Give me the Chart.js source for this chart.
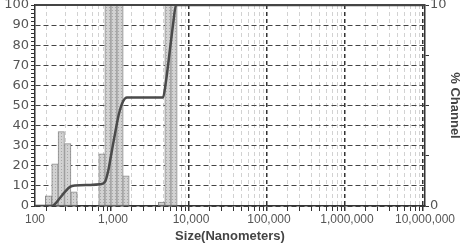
<!DOCTYPE html>
<html>
<head>
<meta charset="utf-8">
<script src="https://cdn.jsdelivr.net/npm/chart.js@4"></script>
<style>
  html, body { margin: 0; padding: 0; background: #fff; }
  #wrap { width: 462px; height: 245px; }
</style>
</head>
<body>
<div id="wrap"><canvas id="psd"></canvas></div>
<script>
// histogram bins (nm) and % channel
var binSizes = [149, 180, 217, 263, 317, 722, 863, 1030, 1230, 1468, 4188, 5070, 6053];
var channelPct = [0.5, 2.1, 3.7, 3.1, 0.7, 2.6, 12, 12, 12, 1.5, 0.2, 12, 12];

// cumulative curve
var cumSizes = [100, 165, 180, 209, 242, 281, 326, 507, 681, 789, 863, 942, 1061, 1194, 1343, 1511, 2170, 4375, 4776, 5379, 5877, 6424, 10000000];
var cumPct = [0, 0, 1, 4, 7, 9.5, 10.2, 10.5, 10.8, 12, 17, 25, 36, 46, 52, 54, 54, 54, 62, 78, 90, 100, 100];

// left axis: minor ticks every 2, labels every 10
var yTicks = [];
for (var t = 0; t <= 100; t += 2) yTicks.push(t);

function isDecade(v) {
  var l = Math.log10(v);
  return Math.abs(l - Math.round(l)) < 1e-9;
}
function isHalf(v) {
  var s = v / Math.pow(10, Math.floor(Math.log10(v) + 1e-9));
  return Math.abs(s - 1.5) < 1e-6;
}

// dotted fill like the original bars
var pat = document.createElement('canvas');
pat.width = 3; pat.height = 3;
var pc = pat.getContext('2d');
pc.fillStyle = '#d2d2d2';
pc.fillRect(0, 0, 3, 3);
pc.fillStyle = '#a8a8a8';
pc.fillRect(1, 1, 1, 1);
var barFill = pc.createPattern(pat, 'repeat');

var xFont = { family: 'Liberation Sans, Arial, sans-serif', size: 12 };
var yFont = { family: 'DejaVu Sans, sans-serif', size: 13 };
var labelGrey = '#555';

new Chart(document.getElementById('psd'), {
  data: {
    datasets: [{
      type: 'line',
      data: cumSizes.map(function (s, i) { return { x: s, y: cumPct[i] }; }),
      xAxisID: 'x',
      yAxisID: 'y',
      borderColor: '#4a4a4a',
      borderWidth: 2.5,
      pointRadius: 0,
      cubicInterpolationMode: 'monotone',
      order: 0
    }, {
      type: 'bar',
      data: binSizes.map(function (s, i) { return { x: s, y: channelPct[i] }; }),
      xAxisID: 'x',
      yAxisID: 'y1',
      backgroundColor: barFill,
      borderColor: '#8c8c8c',
      borderWidth: 1,
      borderSkipped: false,
      barThickness: 6.4,
      order: 1
    }]
  },
  options: {
    responsive: true,
    maintainAspectRatio: false,
    animation: false,
    layout: { padding: { top: 5, left: 0, right: 0, bottom: 0 } },
    plugins: { legend: { display: false }, tooltip: { enabled: false } },
    scales: {
      x: {
        type: 'logarithmic',
        min: 100,
        max: 10000000,
        border: { color: '#333', width: 1.5, dash: [4, 3] },
        grid: {
          color: function (c) {
            if (!c.tick) return 'rgba(0,0,0,0)';
            if (isHalf(c.tick.value)) return 'rgba(0,0,0,0)';
            return isDecade(c.tick.value) ? '#333' : '#d2d2d2';
          },
          lineWidth: function (c) {
            return c.tick && isDecade(c.tick.value) ? 1.5 : 1;
          },
          tickColor: function (c) {
            if (!c.tick || isHalf(c.tick.value)) return 'rgba(0,0,0,0)';
            return '#333';
          },
          tickLength: 5
        },
        ticks: {
          autoSkip: false,
          maxRotation: 0,
          color: labelGrey,
          font: xFont,
          padding: 1,
          callback: function (v) {
            return isDecade(v) ? Number(v).toLocaleString('en-US') : '';
          }
        },
        title: {
          display: true,
          text: 'Size(Nanometers)',
          color: '#444',
          font: { family: xFont.family, size: 13, weight: 'bold' },
          padding: { top: 0, bottom: 1 }
        },
        afterFit: function (s) { s.height = 39; }
      },
      y: {
        position: 'left',
        min: 0,
        max: 100,
        afterBuildTicks: function (s) {
          s.ticks = yTicks.map(function (v) { return { value: v }; });
        },
        border: { color: '#333', width: 1.5, dash: [5, 3] },
        grid: {
          color: function (c) {
            if (!c.tick || c.tick.value % 10 !== 0) return 'rgba(0,0,0,0)';
            return '#444';
          },
          lineWidth: 1,
          tickColor: '#333',
          tickLength: 4
        },
        ticks: {
          autoSkip: false,
          color: labelGrey,
          font: yFont,
          padding: 2,
          callback: function (v) { return v % 10 === 0 ? String(v) : ''; }
        },
        afterFit: function (s) { s.width = 35; s.paddingTop = 0; s.paddingBottom = 0; }
      },
      y1: {
        position: 'right',
        min: 0,
        max: 10,
        border: { color: '#333', width: 1.5 },
        grid: { drawOnChartArea: false, tickColor: '#333', tickLength: 4 },
        ticks: {
          stepSize: 2.5,
          color: labelGrey,
          font: yFont,
          padding: 1,
          callback: function (v) { return (v === 0 || v === 10) ? String(v) : ''; }
        },
        title: {
          display: true,
          text: '% Channel',
          color: '#444',
          font: { family: xFont.family, size: 13, weight: 'bold' },
          padding: { top: 0, bottom: 3 }
        },
        afterFit: function (s) { s.width = 37; s.paddingTop = 0; s.paddingBottom = 0; }
      }
    }
  },
  plugins: [{
    id: 'topBorder',
    afterDraw: function (chart) {
      var a = chart.chartArea, ctx = chart.ctx;
      ctx.save();
      ctx.strokeStyle = '#444';
      ctx.lineWidth = 2;
      ctx.beginPath();
      ctx.moveTo(a.left, a.top);
      ctx.lineTo(a.right, a.top);
      ctx.stroke();
      ctx.restore();
    }
  }]
});
</script>
</body>
</html>
